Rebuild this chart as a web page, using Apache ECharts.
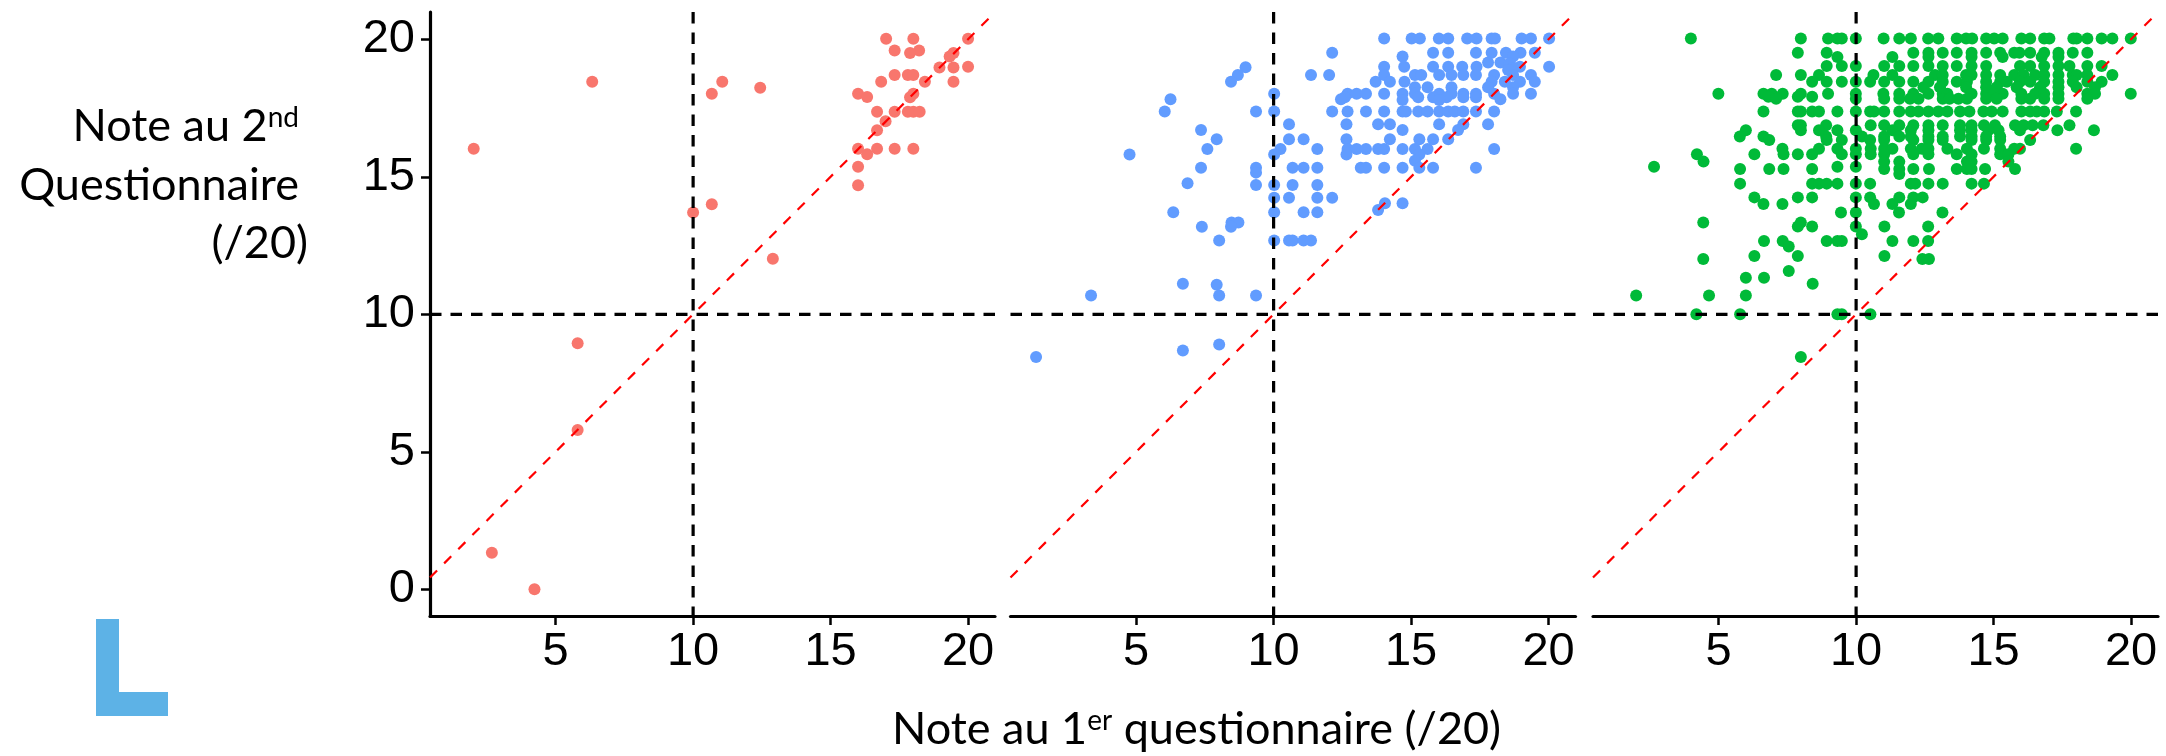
<!DOCTYPE html>
<html><head><meta charset="utf-8">
<style>html,body{margin:0;padding:0;background:#fff}#c{width:2166px;height:756px}</style>
<script src="https://cdn.jsdelivr.net/npm/echarts@6/dist/echarts.min.js"></script>
</head><body><div id="c"></div>
<script>
const xTicks=[5,10,15,20];
const yTicks=[0,5,10,15,20];
const xRange=[0.43,20.98];
const yRange=[-0.97,20.99];
const threshold=10;
const yTitleLines=['{a|Note au 2}{b|nd}','{a|Questionnaire}','{a|(/20)}'];
const xTitle='{a|Note au 1}{b|er}{a| questionnaire (/20)}';

// rows: [y, [x, x, ...]]
const redRows=[
[20.02,[17.02,18.01,20]],[19.59,[17.33,18.22]],[19.5,[17.89,19.47]],[19.37,[19.33]],[18.97,[18.96,19.47]],[19,[20]],
[18.7,[17.33,17.81,18.01]],[18.45,[6.33,11.06,16.84,18.43,19.47]],[18.24,[12.44]],[18.02,[10.68,16,18.01]],[17.9,[16.33]],[17.89,[17.89]],
[17.36,[16.69,17.33,17.81,18.01,18.24]],[17.02,[17]],[16.69,[16.69]],[16.02,[2.02,16,16.69,17.33,18.01]],[15.82,[16.33]],[15.36,[16]],
[14.69,[16]],[14,[10.68]],[13.7,[10]],[12.02,[12.9]],[8.95,[5.8]],[5.79,[5.8]],[1.33,[2.68]],[0,[4.23]]
];
const blueRows=[
[20.03,[14.02,15.02,15.32,16.01,16.35,17.04,17.38,17.93,18.05,19.02,19.36,20.02]],
[19.51,[12.13,15.8,16.35,17.36,17.93,18.45,18.98,19.5]],
[19.37,[14.69,18.71]],[19.15,[17.8,18.25]],[19.13,[18.59]],
[19,[14.02,14.75,15.8,16.35,16.86,17.38,18.96,20.02]],[18.98,[8.98]],[18.95,[18.71]],[18.88,[18.53]],
[18.7,[8.7,11.36,12.02,14.02,15.14,15.37,16.02,16.47,16.9,17.36,18.02,18.71,19.36]],
[18.45,[8.45,13.71,14.23,14.76,17.93,18.41,18.96,19.5]],
[18.25,[15.14,15.6,16.47,17.8,18.71]],
[18.02,[10.02,12.69,13.02,13.36,14.02,14.69,15.14,16.02,16.47,16.9,17.36,18.02,18.71,19.36]],
[17.89,[12.59,15.26,15.8,16.29,16.9,17.36]],[17.82,[6.25,12.45,18.25]],[17.79,[14.69,16.02]],
[17.37,[6.04,9.36,10.02,12.13,12.69,13.36,14.02,14.69,14.81,15.26,15.6,16.02,16.35,16.59,16.9,17.36,18.02]],
[16.91,[10.56,12.65,13.8,14.23,16.02,16.9,17.8]],[16.7,[7.36,14.69,16.71]],
[16.36,[7.93,10.56,11.09,12.65,14.23,15.3,15.8,16.35]],
[16.01,[7.59,10.25,11.59,12.69,13.02,13.36,13.8,14.02,14.69,15.14,15.6,18.02]],
[15.81,[4.76,10.02,12.65,15.3]],[15.58,[15.14]],
[15.33,[7.36,9.36,10.69,11.09,11.59,13.17,13.36,14.02,14.69,15.3,15.8,17.36]],[15.15,[9.36]],
[14.76,[6.87]],[14.7,[9.36,10.02,10.69,11.59]],
[14.24,[10.02,10.56,11.59,12.13]],[14.04,[14.05,14.69]],[13.79,[13.8]],
[13.71,[6.35,10.02,11.09,11.59]],[13.34,[8.47,8.72]],[13.18,[7.39,8.45]],
[12.68,[8.02,10.02,10.56,10.69,11.09,11.36]],
[11.11,[6.7]],[11.07,[7.93]],[10.68,[3.36,8.02,9.36]],[8.9,[8.02]],[8.68,[6.7]],[8.45,[1.36]]
];
const greenRows=[
[20.03,[3.99,7.99,8.98,9.32,9.48,9.99,11,11.57,11.99,12.62,12.99,13.66,14,14.22,14.73,15.02,15.33,16.01,16.33,16.84,17.03,17.9,18.02,18.41,18.93,19.32,19.99]],
[19.51,[7.88,8.93,12.08,12.63,13.15,13.66,14.2,14.73,15.24,15.75,15.94,16.33,16.84,17.36,17.88,18.41]],
[19.35,[9.32,11.32,12.63,14.2,15.33,16.75,17.36]],
[19.03,[8.93,9.48,9.99,11.02,11.57,12.08,12.63,13.15,13.66,14.2,14.73,15.96,16.33,16.84,17.36,17.76,18.41,18.93]],
[18.7,[7.09,7.99,8.65,10.63,11.32,12.87,13.15,14,14.2,14.73,15.24,15.75,16.09,16.51,16.84,17.36,17.88,18.02,18.41,19.32]],
[18.45,[8.4,8.93,9.48,9.99,10.51,11.02,11.57,12.08,12.63,13.15,13.66,14.03,14.73,15.24,15.48,15.96,16.33,16.84,17.36,17.88,18.41,18.93]],
[18.25,[12.45,13.05,14,14.73,15.11,15.84,16.69,17.36,18.02,18.69]],
[18.02,[4.99,6.63,6.93,7.33,7.99,8.98,9.99,10.99,11.57,12.08,12.63,13.15,13.32,14.2,14.73,15.02,15.33,16.01,16.51,16.84,17.36,18.41,18.69,19.99]],
[17.91,[6.81,7.88,8.4]],
[17.84,[7.09,9.99,11.02,11.57,11.96,12.27,13.15,13.4,13.72,14.03,14.73,15.11,16.01,16.33,16.84,17.36,18.41]],
[17.37,[6.63,7.88,7.99,8.4,8.65,9.32,9.99,10.51,10.65,11.02,11.57,11.99,12.27,12.63,12.99,13.32,13.78,14.12,14.63,14.93,15.33,16.01,16.33,16.57,16.84,17.3,18]],
[16.87,[7.88,7.99,8.91,10.53,11.02,11.57,12.08,12.63,13.15,13.78,14.2,14.65,15.05,15.78,16.09,16.42,16.81,17.76]],
[16.69,[5.99,7.99,8.65,9.32,9.99,11.32,11.99,12.63,13.78,14.2,14.81,15.18,15.96,17.32,18.65]],
[16.46,[5.77,6.63,8.91,10.21,11.02,11.57,11.99,12.63,13.15,13.78,14.2,14.73,15.24]],
[16.34,[6.84,8.93,9.48,10.51,11.02,12.08,12.63,13.15,14.2,14.73,15.24,16.33]],
[16.02,[7.32,8.65,9.32,9.99,10.53,11.02,11.32,11.99,12.39,12.63,13.32,14.03,14.65,15.24,15.75,15.96,18]],
[15.82,[4.21,6.3,7.36,7.88,8.4,9.48,9.99,10.53,11.02,12.08,12.63,13.66,14.2,15.24,15.54]],
[15.55,[4.45,11.02,11.57,14.03,14.2,15.54]],
[15.36,[2.65,9.32,9.99]],
[15.28,[5.78,6.84,7.36,8.4,11.02,11.57,12.08,12.65,13.66,14.03,14.2,14.69,15.78]],
[15.1,[11.57]],
[14.75,[5.78,8.4,8.65,8.93,9.32,9.99,10.51,11.99,12.15,12.63,13.15,14.2,14.65]],
[14.25,[6.3,7.88,8.4,9.99,10.51,11.57,12.08,12.42]],
[14.01,[6.63,7.32,10.65,11.32,11.99]],
[13.7,[9.45,9.99,11.56,13.14]],[13.34,[4.44,7.99]],
[13.19,[7.88,8.4,9.99,11.03,12.62]],[12.91,[10.21]],
[12.66,[6.65,7.33,8.93,9.32,9.48,11.32,12.08,12.62]],[12.46,[7.55]],
[12.12,[6.3,7.88,11.03]],[12.01,[4.44,12.41,12.65]],[11.57,[7.55]],[11.33,[5.99,6.65]],[11.11,[8.42]],
[10.68,[2,4.65,5.99]],[10,[4.19,5.78,9.32,9.48,10.52]],[8.45,[7.99]]
];
const panels=[
 {rows:redRows,color:'#F8766D',left:430},
 {rows:blueRows,color:'#619CFF',left:1010.5},
 {rows:greenRows,color:'#00BA38',left:1593}
];
const axisLine={show:true,onZero:false,lineStyle:{color:'#000',width:3.2}};
const tickFont={color:'#000',fontFamily:'Liberation Sans',fontSize:47};
const grids=[],xAxes=[],yAxes=[],series=[];
panels.forEach((p,i)=>{
 grids.push({left:p.left,top:12,width:565,height:604,containLabel:false});
 xAxes.push({type:'value',gridIndex:i,min:xRange[0],max:xRange[1],splitLine:{show:false},axisLine,
  axisTick:{show:true,length:9,lineStyle:{color:'#000',width:2.5},customValues:xTicks},
  axisLabel:{...tickFont,margin:13,customValues:xTicks,hideOverlap:false}});
 yAxes.push(i===0?{type:'value',gridIndex:i,min:yRange[0],max:yRange[1],splitLine:{show:false},axisLine,
  axisTick:{show:true,length:9,lineStyle:{color:'#000',width:2.5},customValues:yTicks},
  axisLabel:{...tickFont,margin:15,customValues:yTicks,hideOverlap:false}}:
  {type:'value',gridIndex:i,min:yRange[0],max:yRange[1],show:false,splitLine:{show:false}});
 const pts=[];p.rows.forEach(r=>r[1].forEach(x=>pts.push([x,r[0]])));
 series.push({type:'scatter',xAxisIndex:i,yAxisIndex:i,data:pts,symbolSize:12,itemStyle:{color:p.color,opacity:1},z:2,silent:true});
 const ln=(data,color,width,dash,z)=>({type:'line',xAxisIndex:i,yAxisIndex:i,data,symbol:'none',silent:true,z,
   lineStyle:{color,width,type:dash},clip:true});
 series.push(ln([[xRange[0],xRange[0]],[xRange[1],xRange[1]]],'#FF0000',2.2,[10,10],3));
 series.push(ln([[xRange[0],threshold],[xRange[1],threshold]],'#000',3.2,[11.5,9],4));
 series.push(ln([[threshold,yRange[1]],[threshold,yRange[0]]],'#000',3.2,[11.5,9],4));
});
const titleRich={a:{fontFamily:'Lato',fontSize:45,color:'#000'},b:{fontFamily:'Lato',fontSize:28,color:'#000',verticalAlign:'top',padding:[0,0,16,0]}};
const chart=echarts.init(document.getElementById('c'),null,{renderer:'canvas'});
chart.setOption({animation:false,backgroundColor:'#fff',grid:grids,xAxis:xAxes,yAxis:yAxes,series,
 graphic:[
  {type:'text',silent:true,x:299,y:126,style:{text:yTitleLines[0],rich:titleRich,align:'right',verticalAlign:'middle'}},
  {type:'text',silent:true,x:299,y:185,style:{text:yTitleLines[1],rich:titleRich,align:'right',verticalAlign:'middle'}},
  {type:'text',silent:true,x:308,y:243,style:{text:yTitleLines[2],rich:titleRich,align:'right',verticalAlign:'middle'}},
  {type:'text',silent:true,x:892,y:729,style:{text:xTitle,rich:titleRich,align:'left',verticalAlign:'middle'}},
  {type:'rect',silent:true,shape:{x:96,y:619,width:23,height:97},style:{fill:'#5DB2E6'}},
  {type:'rect',silent:true,shape:{x:96,y:692,width:72,height:24},style:{fill:'#5DB2E6'}}
 ]});
</script></body></html>
